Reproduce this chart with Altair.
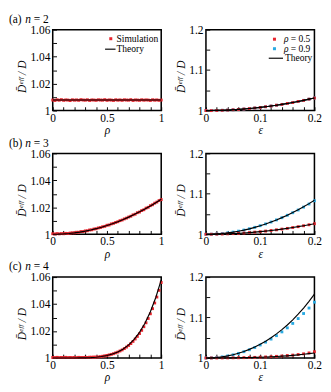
import json
import altair as alt
import pandas as pd

FONT = "Liberation Serif"
RED = "#e8262e"
BLUE = "#2aaae2"
W, H = 114, 85

# ---------------- data ----------------
RHO_SIM = [0.00, 0.02, 0.04, 0.06, 0.08, 0.10, 0.12, 0.14, 0.16, 0.18,
           0.20, 0.22, 0.24, 0.26, 0.28, 0.30, 0.32, 0.34, 0.36, 0.38,
           0.40, 0.42, 0.44, 0.46, 0.48, 0.50, 0.52, 0.54, 0.56, 0.58,
           0.60, 0.62, 0.64, 0.66, 0.68, 0.70, 0.72, 0.74, 0.76, 0.78,
           0.80, 0.82, 0.84, 0.86, 0.88, 0.90, 0.92, 0.94, 0.96, 0.98, 1.00]
RHO_TH = [0.00, 0.05, 0.10, 0.15, 0.20, 0.25, 0.30, 0.35, 0.40, 0.45, 0.50,
          0.55, 0.60, 0.65, 0.70, 0.75, 0.80, 0.85, 0.90, 0.95, 1.00]
EPS = [0.00, 0.01, 0.02, 0.03, 0.04, 0.05, 0.06, 0.07, 0.08, 0.09, 0.10,
       0.11, 0.12, 0.13, 0.14, 0.15, 0.16, 0.17, 0.18, 0.19, 0.20]

# left panels: simulation vs rho
SIM_A_L = [1.0078, 1.0075, 1.0080, 1.0077, 1.0081, 1.0076, 1.0079, 1.0078, 1.0074, 1.0080,
           1.0077, 1.0079, 1.0076, 1.0081, 1.0078, 1.0077, 1.0080, 1.0075, 1.0079, 1.0078,
           1.0076, 1.0080, 1.0078, 1.0077, 1.0081, 1.0076, 1.0079, 1.0078, 1.0075, 1.0080,
           1.0077, 1.0079, 1.0076, 1.0080, 1.0078, 1.0077, 1.0081, 1.0075, 1.0079, 1.0078,
           1.0076, 1.0080, 1.0077, 1.0079, 1.0078, 1.0075, 1.0080, 1.0077, 1.0079, 1.0076, 1.0078]
SIM_B_L = [1.0004, 1.0002, 1.0005, 1.0003, 1.0005, 1.0004, 1.0007, 1.0006, 1.0009, 1.0011,
           1.0011, 1.0015, 1.0015, 1.0020, 1.0020, 1.0025, 1.0026, 1.0032, 1.0033, 1.0039,
           1.0041, 1.0047, 1.0050, 1.0056, 1.0059, 1.0067, 1.0069, 1.0077, 1.0081, 1.0088,
           1.0093, 1.0101, 1.0106, 1.0114, 1.0120, 1.0128, 1.0134, 1.0144, 1.0149, 1.0160,
           1.0165, 1.0176, 1.0182, 1.0194, 1.0200, 1.0212, 1.0219, 1.0231, 1.0239, 1.0250, 1.0257]
SIM_C_L = [1.0004, 1.0003, 1.0005, 1.0003, 1.0004, 1.0003, 1.0005, 1.0003, 1.0004, 1.0003,
           1.0004, 1.0003, 1.0005, 1.0004, 1.0004, 1.0005, 1.0004, 1.0006, 1.0006, 1.0007,
           1.0007, 1.0008, 1.0010, 1.0013, 1.0016, 1.0019, 1.0023, 1.0027, 1.0032, 1.0038,
           1.0044, 1.0052, 1.0060, 1.0070, 1.0081, 1.0093, 1.0107, 1.0123, 1.0141, 1.0160,
           1.0181, 1.0205, 1.0232, 1.0261, 1.0293, 1.0328, 1.0366, 1.0408, 1.0452, 1.0502, 1.0560]

# left panels: theory vs rho
TH_A_L = [1.0078, 1.0078, 1.0078, 1.0078, 1.0078, 1.0078, 1.0078, 1.0078, 1.0078, 1.0078, 1.0078,
          1.0078, 1.0078, 1.0078, 1.0078, 1.0078, 1.0078, 1.0078, 1.0078, 1.0078, 1.0078]
TH_B_L = [1.0, 1.00007, 1.00026, 1.00059, 1.00104, 1.00163, 1.00234, 1.00319, 1.00416, 1.00527, 1.0065,
          1.00787, 1.00936, 1.01099, 1.01274, 1.01463, 1.01664, 1.01879, 1.02106, 1.02347, 1.026]
TH_C_L = [1.0, 1.0, 1.0, 1.0, 1.00002, 1.00006, 1.00014, 1.0003, 1.00059, 1.00107, 1.00181,
          1.00292, 1.00451, 1.00673, 1.00975, 1.01376, 1.019, 1.02574, 1.03425, 1.04488, 1.058]

# right panels: theory vs epsilon
TH_A_R = [1.0, 1.00008, 1.00031, 1.0007, 1.00125, 1.00195, 1.00281, 1.00382, 1.00499, 1.00632, 1.0078,
          1.00944, 1.01123, 1.01318, 1.01529, 1.01755, 1.01997, 1.02254, 1.02527, 1.02816, 1.0312]
TH_B_R05 = [1.0, 1.00007, 1.00026, 1.00059, 1.00104, 1.00163, 1.00234, 1.00319, 1.00416, 1.00527, 1.0065,
            1.00787, 1.00936, 1.01099, 1.01274, 1.01463, 1.01664, 1.01879, 1.02106, 1.02347, 1.026]
TH_B_R09 = [1.0, 1.00021, 1.00084, 1.00189, 1.00336, 1.00525, 1.00756, 1.01029, 1.01344, 1.01701, 1.021,
            1.02541, 1.03024, 1.03549, 1.04116, 1.04725, 1.05376, 1.06069, 1.06804, 1.07581, 1.084]
TH_C_R05 = [1.0, 1.0, 1.00003, 1.0001, 1.0002, 1.00035, 1.00055, 1.0008, 1.0011, 1.00145, 1.0019,
            1.0024, 1.003, 1.0037, 1.0045, 1.0054, 1.0065, 1.0078, 1.0092, 1.0108, 1.0125]
TH_C_R09 = [1.0, 1.00032, 1.00129, 1.00291, 1.0052, 1.00816, 1.01183, 1.01622, 1.02136, 1.02728, 1.03403,
            1.04164, 1.05016, 1.05965, 1.07014, 1.08171, 1.09442, 1.10834, 1.12354, 1.14009, 1.15808]

# right panels: simulation vs epsilon
SIM_A_R05 = [1.0, 0.9999, 1.0002, 1.0006, 1.0012, 1.002, 1.0027, 1.0039, 1.0049, 1.0064, 1.0077,
             1.0095, 1.0111, 1.0133, 1.0152, 1.0176, 1.0198, 1.0226, 1.0251, 1.0282, 1.031]
SIM_A_R09 = [1.0, 1.0001, 1.0003, 1.0007, 1.0013, 1.0019, 1.0028, 1.0038, 1.005, 1.0063, 1.0078,
             1.0094, 1.0112, 1.0131, 1.0153, 1.0175, 1.02, 1.0225, 1.0253, 1.0281, 1.0312]
SIM_B_R05 = [1.0, 1.0001, 1.0003, 1.0006, 1.0011, 1.0016, 1.0024, 1.0032, 1.0042, 1.0053, 1.0065,
             1.0079, 1.0094, 1.011, 1.0128, 1.0146, 1.0167, 1.0188, 1.0211, 1.0235, 1.0262]
SIM_B_R09 = [1.0, 1.0002, 1.0009, 1.0019, 1.0035, 1.0054, 1.0078, 1.0105, 1.0137, 1.0172, 1.0212,
             1.0256, 1.0303, 1.0355, 1.041, 1.047, 1.0533, 1.06, 1.0672, 1.0748, 1.0828]
SIM_C_R05 = [1.0, 1.0001, 1.0001, 1.0002, 1.0003, 1.0005, 1.0006, 1.0009, 1.0012, 1.0016, 1.0021,
             1.0026, 1.0033, 1.0041, 1.005, 1.0061, 1.0072, 1.0086, 1.0103, 1.0125, 1.0155]
SIM_C_R09 = [1.0, 1.0003, 1.0013, 1.0028, 1.005, 1.0078, 1.0114, 1.0156, 1.0204, 1.026, 1.0322,
             1.0392, 1.0468, 1.0552, 1.0645, 1.0745, 1.0855, 1.0975, 1.11, 1.1235, 1.138]

# axis ticks and labels
RHO_TICKS = [0, 0.1, 0.2, 0.3, 0.4, 0.5, 0.6, 0.7, 0.8, 0.9, 1]
RHO_LABELS = [0, 0.5, 1]
DL_TICKS = [1, 1.01, 1.02, 1.03, 1.04, 1.05, 1.06]
DL_LABELS = [1, 1.02, 1.04, 1.06]
EPS_TICKS = [0, 0.02, 0.04, 0.06, 0.08, 0.1, 0.12, 0.14, 0.16, 0.18, 0.2]
EPS_LABELS = [0, 0.1, 0.2]
DR_TICKS = [1, 1.05, 1.1, 1.15, 1.2]
DR_LABELS = [1, 1.1, 1.2]

ROW_LABELS = [("(a)", "2"), ("(b)", "3"), ("(c)", "4")]
Y_TITLE = "D\u0304\u1d49\u1da0\u1da0 / D"

ONE = pd.DataFrame({"k": [0]})


def lab_expr(labels):
    return f"indexof({json.dumps(labels)}, datum.value) >= 0 ? format(datum.value, '~g') : ''"


def make_axis(values, labels, title, orient, **kw):
    base = dict(values=values, labelExpr=lab_expr(labels), title=title, orient=orient,
                offset=-4, tickSize=4, tickWidth=1, tickColor="black", domain=False, grid=False,
                labelFlush=False, labelOverlap=False, labelPadding=3, labelFont=FONT,
                labelFontSize=12, labelColor="black", titleFont=FONT, titleFontSize=12,
                titleFontStyle="italic", titleFontWeight="normal", titleColor="black")
    base.update(kw)
    return alt.Axis(**base)


def txt(s, x, y, style="normal", size=10, align="left", baseline="middle"):
    return alt.Chart(ONE).mark_text(text=s, font=FONT, fontSize=size, fontStyle=style,
                                    align=align, baseline=baseline, color="black").encode(
        x=alt.value(x), y=alt.value(y))


def sym(x, y, color):
    return alt.Chart(ONE).mark_square(size=10, color=color, opacity=1).encode(
        x=alt.value(x), y=alt.value(y))


def seg(x1, x2, y):
    return alt.Chart(ONE).mark_rule(color="black", strokeWidth=1.2).encode(
        x=alt.value(x1), x2=alt.value(x2), y=alt.value(y))


def panel(series, xdom, ydom, xax, yax, extras):
    xs = alt.Scale(domain=xdom, nice=False, zero=False)
    ys = alt.Scale(domain=ydom, nice=False, zero=False)
    layers = []
    for xv, yv, kind, color in series:
        df = pd.DataFrame({"x": xv, "y": yv})
        if kind == "pts":
            m = alt.Chart(df).mark_square(size=9, color=color, opacity=1)
        else:
            m = alt.Chart(df).mark_line(color=color, strokeWidth=1.2)
        layers.append(m.encode(x=alt.X("x:Q", scale=xs, axis=xax),
                               y=alt.Y("y:Q", scale=ys, axis=yax)))
    layers += extras
    return alt.layer(*layers).properties(width=W, height=H)


xaxL = make_axis(RHO_TICKS, RHO_LABELS, "ρ", "bottom", labelPadding=2, titlePadding=2)
yaxL = make_axis(DL_TICKS, DL_LABELS, Y_TITLE, "left", titlePadding=2, titleY=49)
xaxR = make_axis(EPS_TICKS, EPS_LABELS, "ε", "bottom", labelPadding=2, titlePadding=2)
yaxR = make_axis(DR_TICKS, DR_LABELS, Y_TITLE, "left", titlePadding=2, titleY=49)

left_data = [(SIM_A_L, TH_A_L), (SIM_B_L, TH_B_L), (SIM_C_L, TH_C_L)]
right_data = [(SIM_A_R05, SIM_A_R09, TH_A_R, TH_A_R),
              (SIM_B_R05, SIM_B_R09, TH_B_R05, TH_B_R09),
              (SIM_C_R05, SIM_C_R09, TH_C_R05, TH_C_R09)]

rows = []
for i in range(3):
    sim, th = left_data[i]
    lab, nval = ROW_LABELS[i]
    ty = -7
    extrasL = [txt(lab, -46, ty, size=12, baseline="alphabetic"),
               txt("n", -29, ty, style="italic", size=12, baseline="alphabetic"),
               txt("= " + nval, -20, ty, size=12, baseline="alphabetic")]
    if i == 0:
        extrasL += [sym(61, 9.5, RED), txt("Simulation", 67, 9.5),
                    seg(55, 66, 20.5), txt("Theory", 67, 20.5)]
    left = panel([(RHO_SIM, sim, "pts", RED), (RHO_TH, th, "line", "black")],
                 [0, 1], [1, 1.06], xaxL, yaxL, extrasL)

    s05, s09, t05, t09 = right_data[i]
    extrasR = []
    if i == 0:
        extrasR += [sym(72, 10, RED), txt("ρ", 82, 10, style="italic"), txt("= 0.5", 89, 10),
                    sym(72, 20, BLUE), txt("ρ", 82, 20, style="italic"), txt("= 0.9", 89, 20),
                    seg(66, 81, 30), txt("Theory", 83, 30)]
    right = panel([(EPS, s09, "pts", BLUE), (EPS, s05, "pts", RED),
                   (EPS, t09, "line", "black"), (EPS, t05, "line", "black")],
                  [0, 0.2], [1, 1.2], xaxR, yaxR, extrasR)
    rows.append(alt.hconcat(left, right, spacing=9))

chart = alt.vconcat(*rows, spacing=0).properties(
    padding={"left": 0, "top": -5, "right": 0, "bottom": 0}
).configure(font=FONT).configure_view(stroke="black", strokeWidth=1.6)

chart.save("out.html", embed_options={"renderer": "svg", "actions": False})
